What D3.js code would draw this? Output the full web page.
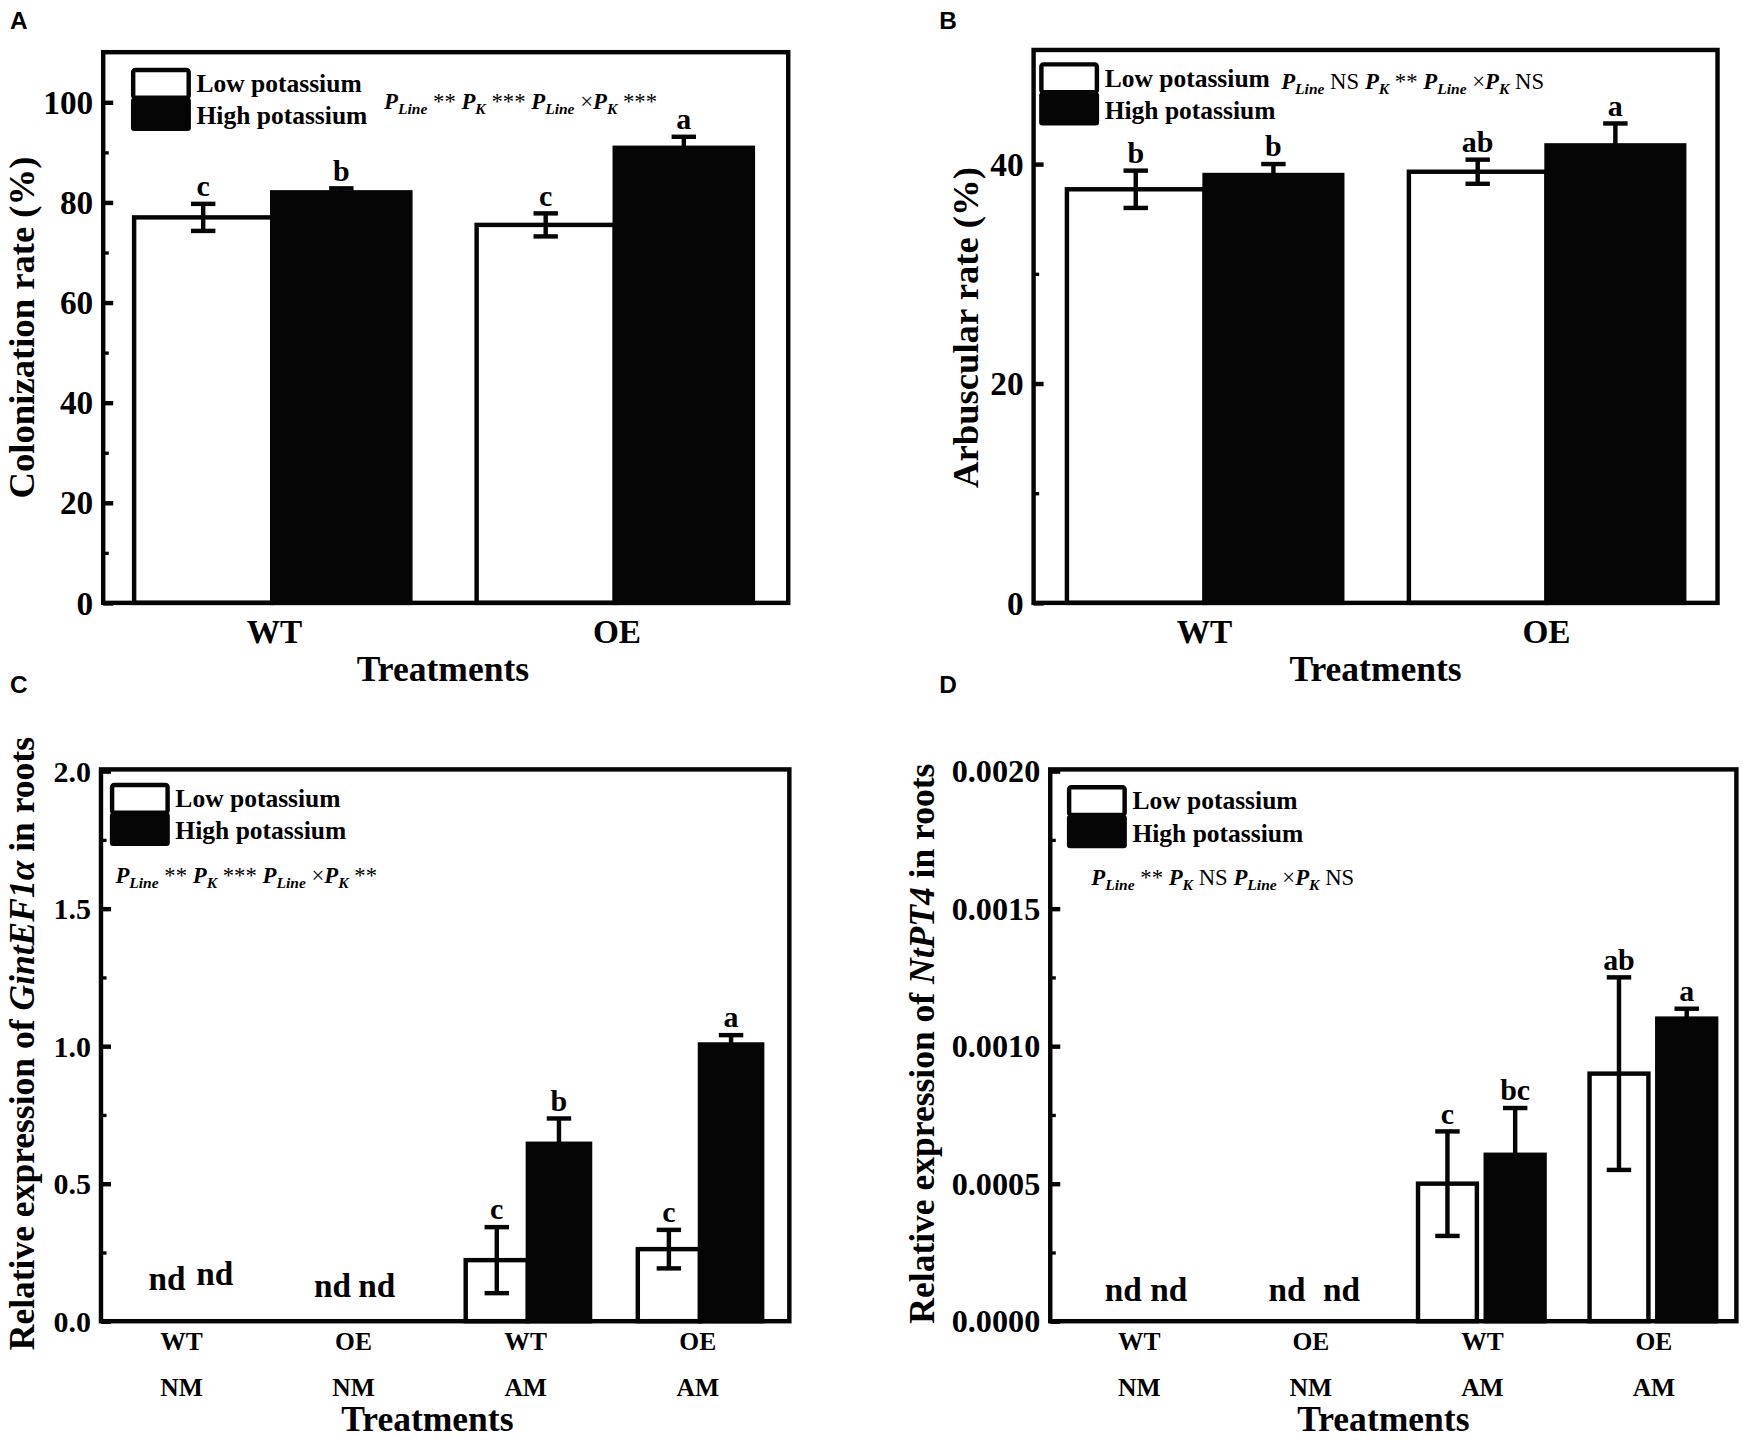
<!DOCTYPE html>
<html>
<head>
<meta charset="utf-8">
<title>Colonization and expression</title>
<script src="https://d3js.org/d3.v7.min.js"></script>
<style>
  body { margin: 0; background: #fff; }
  text { font-family: "Liberation Serif", "Times New Roman", serif; font-weight: bold; fill: #000; }
</style>
</head>
<body>
<script>
// series
const seriesNames = ["Low potassium", "High potassium"];

// panel A - colonization rate
const catsA = ["WT", "OE"];
const lowA = [77.0, 75.5];
const lowErrA = [2.7, 2.3];
const highA = [82.0, 90.9];
const highErrA = [0.8, 2.2];
const lettersA = [["c", "b"], ["c", "a"]];
const sigA = ["**", "***", "***"];

// panel B - arbuscular rate
const catsB = ["WT", "OE"];
const lowB = [37.7, 39.3];
const lowErrB = [1.7, 1.1];
const highB = [39.0, 41.7];
const highErrB = [1.0, 2.0];
const lettersB = [["b", "b"], ["ab", "a"]];
const sigB = ["NS", "**", "NS"];

// panel C - GintEF1a
const catsC = ["WT", "OE", "WT", "OE"];
const fungiC = ["NM", "NM", "AM", "AM"];
const lowC = [null, null, 0.222, 0.262];
const lowErrC = [null, null, 0.12, 0.07];
const highC = [null, null, 0.645, 1.006];
const highErrC = [null, null, 0.092, 0.034];
const lettersC = [["nd", "nd"], ["nd", "nd"], ["c", "b"], ["c", "a"]];
const sigC = ["**", "***", "**"];

// panel D - NtPT4
const catsD = ["WT", "OE", "WT", "OE"];
const fungiD = ["NM", "NM", "AM", "AM"];
const lowD = [null, null, 0.0005, 0.0009];
const lowErrD = [null, null, 0.00019, 0.00035];
const highD = [null, null, 0.000605, 0.0011];
const highErrD = [null, null, 0.00017, 0.000036];
const lettersD = [["nd", "nd"], ["nd", "nd"], ["c", "bc"], ["ab", "a"]];
const sigD = ["**", "NS", "NS"];

// drawing space is the 1568x1297 figure, scaled to the window
const W = 1568, H = 1297;
const svg = d3.select("body").append("svg")
    .attr("width", 1743)
    .attr("height", 1440)
    .attr("viewBox", `0 0 ${W} ${H}`);

function pText(g, x, y, sig) {
    const t = g.append("text").attr("x", x).attr("y", y)
        .style("font-size", "20.5px").style("font-weight", "normal");
    const parts = [["Line", " " + sig[0] + " "], ["K", " " + sig[1] + " "], ["Line", " \u00d7"], ["K", " " + sig[2]]];
    parts.forEach(p => {
        t.append("tspan").text("P").style("font-style", "italic").style("font-weight", "bold");
        t.append("tspan").text(p[0]).attr("dy", 5).style("font-size", "14px")
            .style("font-style", "italic").style("font-weight", "bold");
        t.append("tspan").text(p[1]).attr("dy", -5);
    });
}

function drawPanel(cfg) {
    const g = svg.append("g");
    const y = d3.scaleLinear().domain(cfg.domain).range([cfg.y1, cfg.y0]);
    const x0 = d3.scaleBand().domain(d3.range(cfg.cats.length)).range([cfg.x0, cfg.x1]);
    const x1 = d3.scaleBand().domain([0, 1]).range([0, x0.bandwidth()])
        .paddingInner(cfg.pi).paddingOuter(cfg.po);

    const rows = cfg.cats.map((c, i) => [
        { i, s: 0, v: cfg.low[i], e: cfg.lowErr[i], l: cfg.letters[i][0] },
        { i, s: 1, v: cfg.high[i], e: cfg.highErr[i], l: cfg.letters[i][1] }
    ]).flat();
    const drawn = rows.filter(d => d.v != null);

    // bars
    g.selectAll("rect.bar").data(drawn).join("rect")
        .attr("class", "bar")
        .attr("x", d => x0(d.i) + x1(d.s) + cfg.shift)
        .attr("y", d => y(d.v))
        .attr("width", x1.bandwidth())
        .attr("height", d => y(0) - y(d.v))
        .attr("fill", d => d.s === 0 ? "#fff" : "#050505")
        .attr("stroke", "#050505")
        .attr("stroke-width", 4);

    // error bars
    const cx = d => x0(d.i) + x1(d.s) + x1.bandwidth() / 2 + cfg.shift;
    g.selectAll("line.err").data(drawn).join("line")
        .attr("x1", cx).attr("x2", cx)
        .attr("y1", d => y(d.v + d.e)).attr("y2", d => y(d.v - d.e))
        .attr("stroke", "#050505").attr("stroke-width", 4);
    ["+", "-"].forEach(sg => {
        g.selectAll("line.cap" + (sg === "+" ? "u" : "d")).data(drawn).join("line")
            .attr("x1", d => cx(d) - cfg.cap).attr("x2", d => cx(d) + cfg.cap)
            .attr("y1", d => y(sg === "+" ? d.v + d.e : d.v - d.e))
            .attr("y2", d => y(sg === "+" ? d.v + d.e : d.v - d.e))
            .attr("stroke", "#050505").attr("stroke-width", 4);
    });

    // letters
    g.selectAll("text.let").data(drawn).join("text")
        .attr("x", cx)
        .attr("y", d => y(d.v + d.e) - 7)
        .attr("text-anchor", "middle")
        .style("font-size", "27px")
        .text(d => d.l);

    // nd labels
    g.selectAll("text.nd").data(rows.filter(d => d.v == null)).join("text")
        .attr("x", d => x0(d.i) + x1(d.s) + x1.bandwidth() / 2 + cfg.ndShift[d.i][d.s] + cfg.shift)
        .attr("y", d => y(0) - cfg.ndLift[d.i][d.s])
        .attr("text-anchor", "middle")
        .style("font-size", "30px")
        .text(d => d.l);

    // frame
    g.append("rect")
        .attr("x", cfg.x0).attr("y", cfg.y0)
        .attr("width", cfg.x1 - cfg.x0).attr("height", cfg.y1 - cfg.y0)
        .attr("fill", "none").attr("stroke", "#050505").attr("stroke-width", 4);

    // y axis, ticks inward
    const ax = d3.axisRight(y).tickValues(cfg.major).tickSize(9).tickFormat("");
    const axg = g.append("g").attr("transform", `translate(${cfg.x0},0)`).call(ax);
    axg.select(".domain").remove();
    axg.selectAll("line").attr("stroke", "#050505").attr("stroke-width", 4);
    const axm = d3.axisRight(y).tickValues(cfg.minor).tickSize(5).tickFormat("");
    const axmg = g.append("g").attr("transform", `translate(${cfg.x0},0)`).call(axm);
    axmg.select(".domain").remove();
    axmg.selectAll("line").attr("stroke", "#050505").attr("stroke-width", 3);

    g.selectAll("text.tick").data(cfg.major).join("text")
        .attr("x", cfg.x0 - 9)
        .attr("y", d => y(d))
        .attr("dy", "0.35em")
        .attr("text-anchor", "end")
        .style("font-size", cfg.tickSize + "px")
        .text(cfg.fmt);

    // category labels
    g.selectAll("text.cat").data(cfg.cats).join("text")
        .attr("x", (d, i) => x0(i) + x0.bandwidth() / 2 + cfg.catShift)
        .attr("y", cfg.catY)
        .attr("text-anchor", "middle")
        .style("font-size", cfg.catSize + "px")
        .text(d => d);
    if (cfg.fungi) {
        g.selectAll("text.fun").data(cfg.fungi).join("text")
            .attr("x", (d, i) => x0(i) + x0.bandwidth() / 2 + cfg.catShift)
            .attr("y", cfg.catY + 41)
            .attr("text-anchor", "middle")
            .style("font-size", cfg.catSize + "px")
            .text(d => d);
    }

    g.append("text")
        .attr("x", cfg.xlab[0]).attr("y", cfg.xlab[1])
        .attr("text-anchor", "middle")
        .style("font-size", "32px")
        .text("Treatments");

    const yl = g.append("text")
        .attr("transform", `translate(${cfg.ylab[0]},${cfg.ylab[1]}) rotate(-90)`)
        .attr("text-anchor", "middle")
        .style("font-size", cfg.ylabSize + "px");
    cfg.ylabel.forEach(p => yl.append("tspan").text(p[0]).style("font-style", p[1] ? "italic" : "normal"));

    // legend
    const lg = g.append("g").attr("transform", `translate(${cfg.leg[0]},${cfg.leg[1]})`);
    lg.append("rect").attr("x", 2).attr("y", 2).attr("width", 50).attr("height", 25).attr("rx", 2)
        .attr("fill", "#fff").attr("stroke", "#050505").attr("stroke-width", 4);
    lg.append("rect").attr("x", 0).attr("y", 27).attr("width", 54).attr("height", 30).attr("rx", 3)
        .attr("fill", "#050505");
    lg.selectAll("text").data(seriesNames).join("text")
        .attr("x", 59).attr("y", (d, i) => 22 + i * 29)
        .style("font-size", "23px")
        .text(d => d);

    pText(g, cfg.ptext[0], cfg.ptext[1], cfg.sig);

    svg.append("text")
        .attr("x", cfg.tag[0]).attr("y", cfg.tag[1])
        .style("font-family", "'Liberation Sans', Arial, sans-serif")
        .style("font-size", "22px")
        .text(cfg.tagText);
}

drawPanel({
    tagText: "A", tag: [8, 26],
    cats: catsA, low: lowA, lowErr: lowErrA, high: highA, highErr: highErrA, letters: lettersA, sig: sigA,
    x0: 92, x1: 709, y0: 47, y1: 543, domain: [0, 110],
    major: [0, 20, 40, 60, 80, 100], minor: [10, 30, 50, 70, 90], fmt: d3.format("d"), tickSize: 30,
    pi: 0, po: 0.24, shift: -2, cap: 11, ndShift: [[0, 0], [0, 0]], ndLift: [[0, 0], [0, 0]],
    catY: 579, catSize: 30, catShift: 0, xlab: [398, 613],
    ylab: [30, 295], ylabSize: 33, ylabel: [["Colonization rate (%)", false]],
    leg: [117, 61], ptext: [345, 98]
});

drawPanel({
    tagText: "B", tag: [845, 26],
    cats: catsB, low: lowB, lowErr: lowErrB, high: highB, highErr: highErrB, letters: lettersB, sig: sigB,
    x0: 930, x1: 1546, y0: 45, y1: 543, domain: [0, 50.4],
    major: [0, 20, 40], minor: [10, 30], fmt: d3.format("d"), tickSize: 30,
    pi: 0, po: 0.242, shift: 0, cap: 11, ndShift: [[0, 0], [0, 0]], ndLift: [[0, 0], [0, 0]],
    catY: 579, catSize: 30, catShift: 0, xlab: [1238, 613],
    ylab: [880, 295], ylabSize: 33, ylabel: [["Arbuscular rate (%)", false]],
    leg: [935, 56], ptext: [1153, 80]
});

drawPanel({
    tagText: "C", tag: [8, 624],
    cats: catsC, fungi: fungiC, low: lowC, lowErr: lowErrC, high: highC, highErr: highErrC, letters: lettersC, sig: sigC,
    x0: 90, x1: 710, y0: 693, y1: 1190, domain: [0, 2.006],
    major: [0, 0.5, 1, 1.5, 2], minor: [0.25, 0.75, 1.25, 1.75], fmt: d3.format(".1f"), tickSize: 27,
    pi: 0, po: 0.384, shift: -3, cap: 11,
    ndShift: [[13, 0], [7, -9], [0, 0], [0, 0]], ndLift: [[28, 33], [22, 22], [0, 0], [0, 0]],
    catY: 1216, catSize: 23, catShift: -5, xlab: [384, 1289],
    ylab: [30, 940], ylabSize: 32,
    ylabel: [["Relative expression of ", false], ["GintEF1\u03b1", true], [" in roots", false]],
    leg: [98, 705], ptext: [103, 795]
});

drawPanel({
    tagText: "D", tag: [845, 624],
    cats: catsD, fungi: fungiD, low: lowD, lowErr: lowErrD, high: highD, highErr: highErrD, letters: lettersD, sig: sigD,
    x0: 945, x1: 1563, y0: 693, y1: 1190, domain: [0, 0.002006],
    major: [0, 0.0005, 0.001, 0.0015, 0.002], minor: [0.00025, 0.00075, 0.00125, 0.00175], fmt: d3.format(".4f"), tickSize: 29,
    pi: 0.131, po: 0.332, shift: 2, cap: 11,
    ndShift: [[17, -3], [10, -2], [0, 0], [0, 0]], ndLift: [[18, 18], [18, 18], [0, 0], [0, 0]],
    catY: 1216, catSize: 23, catShift: 3, xlab: [1245, 1289],
    ylab: [840, 940], ylabSize: 32,
    ylabel: [["Relative expression of ", false], ["NtPT4", true], [" in roots", false]],
    leg: [960, 707], ptext: [982, 797]
});
</script>
</body>
</html>
